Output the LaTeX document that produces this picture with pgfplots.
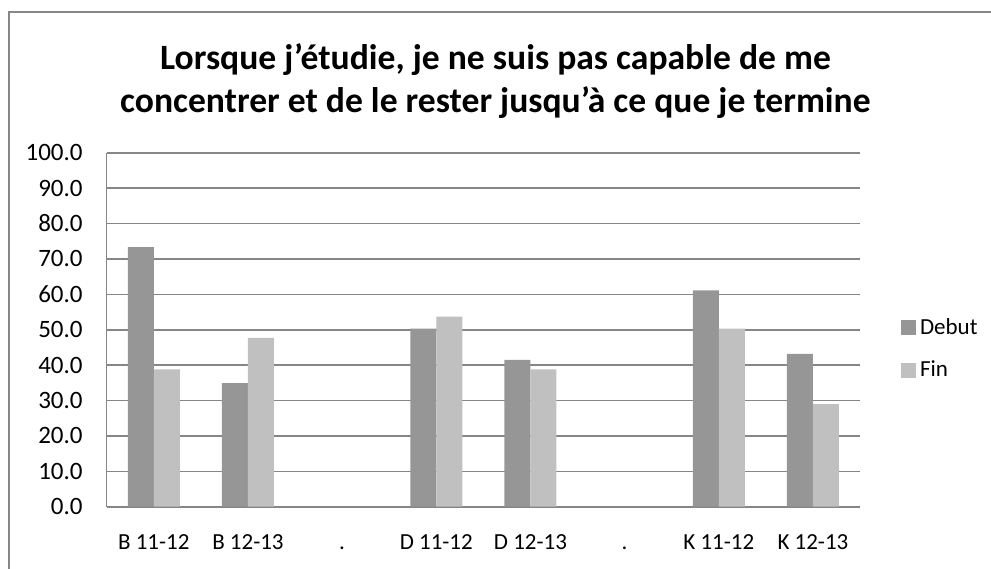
\documentclass[border=0pt]{standalone}
\usepackage{pgfplots}
\pgfplotsset{compat=1.18}
\usepackage{fontspec}
\setmainfont{Carlito}

\definecolor{debut}{HTML}{969696}
\definecolor{fin}{HTML}{C0C0C0}
\definecolor{gridc}{HTML}{868686}

\begin{document}
\begin{tikzpicture}
  \useasboundingbox (-53.35pt,-30.65pt) rectangle (442.15pt,253.35pt);
  % frame of the chart area (only left and top are visible)
  \draw[gridc, line width=1pt] (-48.85pt,-40pt) -- (-48.85pt,247.35pt) -- (460pt,247.35pt);
  \node[font=\bfseries\fontsize{17.8}{21.5}\selectfont, align=center]
    at (194.4pt,212.6pt)
    {Lorsque j’étudie, je ne suis pas capable de me\\
     concentrer et de le rester jusqu’à ce que je termine};

  \begin{axis}[
    at={(0,0)}, anchor=south west,
    scale only axis,
    width=376.65pt, height=177pt,
    ybar=0pt, bar width=13pt,
    xmin=-0.5, xmax=7.5,
    ymin=0, ymax=100,
    ytick={0,10,...,100},
    xtick={0,...,7},
    xticklabels={B 11-12, B 12-13, ., D 11-12, D 12-13, ., K 11-12, K 12-13},
    major tick length=0pt,
    ymajorgrids,
    grid style={gridc, line width=0.8pt},
    axis line style={gridc, line width=0.8pt},
    axis x line*=bottom, axis y line*=left,
    tick label style={font=\fontsize{11.5}{13}\selectfont},
    xticklabel style={text height=8pt, text depth=2pt, yshift=-10pt},
    yticklabel style={font=\fontsize{12.5}{14}\selectfont, xshift=-8.5pt},
    /pgf/number format/.cd, fixed, fixed zerofill, precision=1, assume math mode=true,
    /pgfplots/.cd,
    legend style={draw=none, fill=none, at={(1.046,0.4455)}, anchor=west,
      font=\fontsize{11.5}{13}\selectfont, row sep=8pt,
      /tikz/every even column/.append style={column sep=1pt}},
    legend cell align=left,
    legend image code/.code={\fill[#1] (0pt,-3.75pt) rectangle (7.5pt,3.75pt);},
  ]
    \addplot[fill=debut, draw=none] coordinates {
      (0,73.3) (1,34.9) (3,50.3) (4,41.5) (6,61.1) (7,43.2)
    };
    \addplot[fill=fin, draw=none] coordinates {
      (0,38.8) (1,47.7) (3,53.7) (4,38.8) (6,50.3) (7,29.0)
    };
    \legend{Debut,Fin}
  \end{axis}
\end{tikzpicture}
\end{document}
